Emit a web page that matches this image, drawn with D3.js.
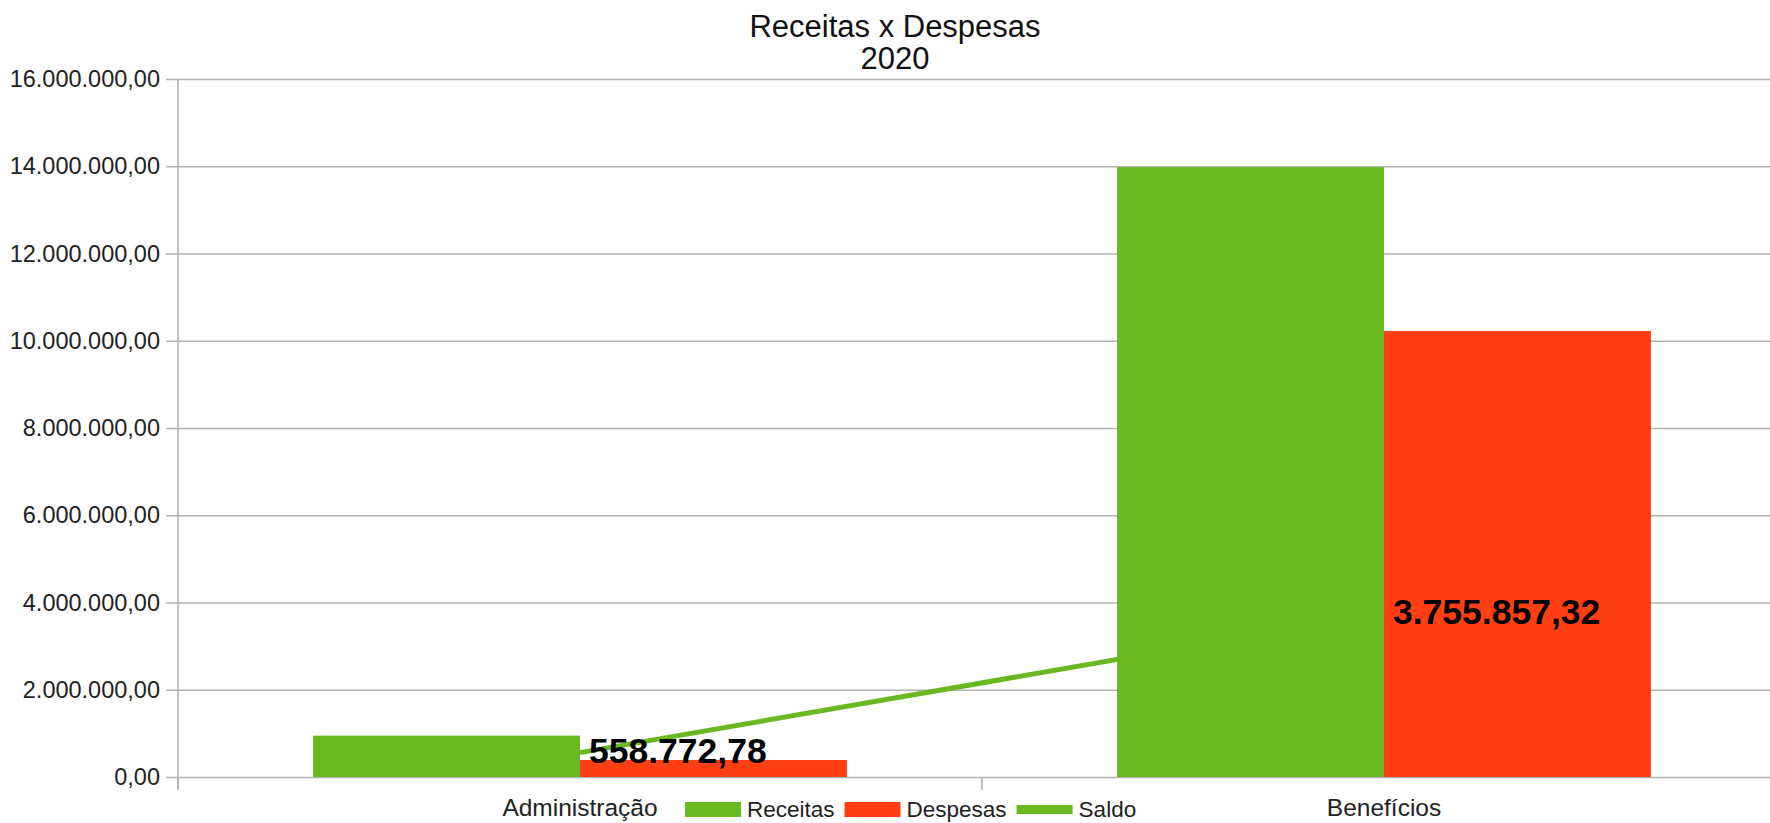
<!DOCTYPE html>
<html>
<head>
<meta charset="utf-8">
<script src="https://cdn.jsdelivr.net/npm/d3@7"></script>
<style>
  html, body { margin: 0; padding: 0; background: #fff; }
  svg { display: block; }
  text { font-family: "Liberation Sans", Arial, sans-serif; }
</style>
</head>
<body>
<svg id="chart" width="1770" height="823"></svg>
<script>
// ---- data ----
const categories = ["Administração", "Benefícios"];
const seriesNames = ["Receitas", "Despesas", "Saldo"];
const receitas = [948000, 13980000];
const despesas = [389227.22, 10224142.68];
const saldo = [558772.78, 3755857.32];
const yTicks = [0, 2000000, 4000000, 6000000, 8000000, 10000000, 12000000, 14000000, 16000000];
const titleLines = ["Receitas x Despesas", "2020"];
const colors = { Receitas: "#6ab822", Despesas: "#ff3f13", Saldo: "#6ab822" };

// ---- layout ----
const W = 1770, H = 823;
const plot = { left: 178, right: 1786, top: 79, bottom: 777 };
const gridColor = "#b3b3b3";

const svg = d3.select("#chart");
svg.append("rect").attr("width", W).attr("height", H).attr("fill", "#fff");

const loc = d3.formatLocale({ decimal: ",", thousands: ".", grouping: [3], currency: ["R$ ", ""] });
const fmt = loc.format(",.2f");

const y = d3.scaleLinear().domain([0, 16000000]).range([plot.bottom, plot.top]);
const x0 = d3.scaleBand().domain(categories).range([plot.left, plot.right]).paddingInner(0).paddingOuter(0);
const bw = x0.bandwidth();
const x1 = d3.scaleBand().domain(["Receitas", "Despesas"]).range([bw * 0.168, bw * 0.832]);

// gridlines + y labels
const yAxis = d3.axisLeft(y).tickValues(yTicks).tickFormat(fmt)
  .tickSize(-(plot.right - plot.left) - 12).tickPadding(6);
const gy = svg.append("g").attr("transform", `translate(${plot.left - 12},0)`).call(yAxis);
gy.select(".domain").remove();
gy.selectAll(".tick line").attr("stroke", gridColor).attr("stroke-width", 1.6).attr("x2", plot.right - plot.left + 12);
gy.selectAll(".tick text").attr("fill", "#222").style("font-size", "23.5px").attr("x", -6);

// y axis line
svg.append("line").attr("x1", plot.left).attr("x2", plot.left)
  .attr("y1", plot.top).attr("y2", plot.bottom + 13)
  .attr("stroke", gridColor).attr("stroke-width", 1.6);

// x ticks at band boundaries
const bounds = [plot.left, ...categories.slice(1).map(c => x0(c)), plot.right];
svg.append("g").selectAll("line").data(bounds).join("line")
  .attr("x1", d => d).attr("x2", d => d)
  .attr("y1", plot.bottom).attr("y2", plot.bottom + 13)
  .attr("stroke", gridColor).attr("stroke-width", 1.6);

// Saldo line (behind bars)
const lineGen = d3.line().x((d, i) => x0(categories[i]) + bw / 2).y(d => y(d));
svg.append("path").datum(saldo).attr("d", lineGen)
  .attr("fill", "none").attr("stroke", colors.Saldo).attr("stroke-width", 5);

// bars
const barData = [];
categories.forEach((c, i) => {
  barData.push({ cat: c, s: "Receitas", v: receitas[i] });
  barData.push({ cat: c, s: "Despesas", v: despesas[i] });
});
svg.append("g").selectAll("rect").data(barData).join("rect")
  .attr("x", d => x0(d.cat) + x1(d.s))
  .attr("width", x1.bandwidth())
  .attr("y", d => y(d.v))
  .attr("height", d => y(0) - y(d.v))
  .attr("fill", d => colors[d.s]);

// value labels of Saldo
svg.append("g").selectAll("text").data(saldo).join("text")
  .attr("x", (d, i) => x0(categories[i]) + bw / 2 + 9)
  .attr("y", d => y(d) + 10.5)
  .attr("fill", "#000")
  .style("font-size", "35.5px").style("font-weight", "bold")
  .text(d => fmt(d));

// category labels
svg.append("g").selectAll("text").data(categories).join("text")
  .attr("x", d => x0(d) + bw / 2)
  .attr("y", 816)
  .attr("text-anchor", "middle")
  .attr("fill", "#222")
  .style("font-size", "24.5px")
  .text(d => d);

// legend
const lg = svg.append("g");
let lx = 685;
seriesNames.forEach(s => {
  if (s === "Saldo") {
    lg.append("rect").attr("x", lx).attr("y", 805).attr("width", 56).attr("height", 9).attr("fill", colors[s]);
  } else {
    lg.append("rect").attr("x", lx).attr("y", 802).attr("width", 56).attr("height", 15).attr("fill", colors[s]);
  }
  const t = lg.append("text").attr("x", lx + 62).attr("y", 817)
    .attr("fill", "#222").style("font-size", "22.5px").text(s);
  lx = lx + 62 + t.node().getComputedTextLength() + 10;
});

// title
svg.append("g").selectAll("text").data(titleLines).join("text")
  .attr("x", 895)
  .attr("y", (d, i) => 37 + i * 31.5)
  .attr("text-anchor", "middle")
  .attr("fill", "#111")
  .style("font-size", "31px")
  .text(d => d);
</script>
</body>
</html>
